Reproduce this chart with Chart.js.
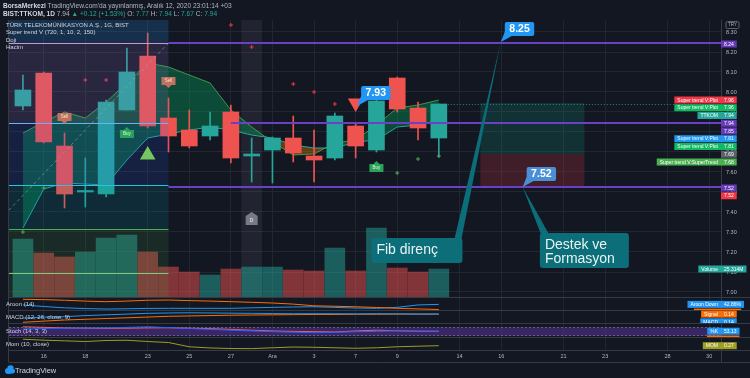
<!DOCTYPE html>
<html>
<head>
<meta charset="utf-8">
<title>TTKOM</title>
<script src="https://cdn.jsdelivr.net/npm/chart.js@4.4.1/dist/chart.umd.min.js"></script>
<style>
  html, body { margin: 0; padding: 0; background: #131722; }
  #wrap { position: relative; width: 750px; height: 378px; overflow: hidden; font-family: "Liberation Sans", Arial, sans-serif; }
  #c { position: absolute; left: 0; top: 0; }
  .t { position: absolute; white-space: nowrap; color: #d1d4dc; font-size: 6px; line-height: 7px; }
  .h { font-size: 6.6px; line-height: 8px; color: #b2b5be; }
  .h b { color: #d1d4dc; }
  .g { color: #26a69a; }
</style>
</head>
<body>
<div id="wrap">
  <canvas id="c" width="750" height="378"></canvas>
  <div class="t h" style="left:3px;top:2px"><b>BorsaMerkezi</b> TradingView.com'da yayınlanmış, Aralık 12, 2020 23:01:14 +03</div>
  <div class="t h" style="left:3px;top:10px"><b>BIST:TTKOM, 1D</b> 7.94 <span class="g">▲</span> <span class="g">+0.12 (+1.53%)</span> O: <span class="g">7.77</span> H: <span class="g">7.94</span> L: <span class="g">7.67</span> C: <span class="g">7.94</span></div>
  <div class="t" style="left:6px;top:21.5px">TÜRK TELEKOMÜNİKASYON A.Ş., 1G, BIST</div>
  <div class="t" style="left:6px;top:29px">Super trend V (720, 1, 10, 2, 150)</div>
  <div class="t" style="left:6px;top:36.5px">Doji</div>
  <div class="t" style="left:6px;top:43.5px">Hacim</div>
  <div class="t" style="left:6px;top:300.5px">Aroon (14)</div>
  <div class="t" style="left:6px;top:314px">MACD (12, 26, close, 9)</div>
  <div class="t" style="left:6px;top:327.5px">Stoch (14, 3, 3)</div>
  <div class="t" style="left:6px;top:341px">Mom (10, close)</div>
  <div class="t" style="left:15px;top:366px;font-size:7.5px;line-height:9px">TradingView</div>
</div>
<script>
// trading days on the x axis (index = position)
var dayLabels = ['13', '16', '17', '18', '19', '20', '23', '24', '25', '26', '27', '30', 'Ara', '2', '3', '4', '7', '8', '9', '10', '11',
    '14', '15', '16', '17', '18', '21', '22', '23', '24', '25', '28', '29', '30'];
var tickIdx = [1, 3, 6, 8, 10, 12, 14, 16, 18, 21, 23, 26, 28, 31, 33];
var priceTicks = [7.0, 7.1, 7.2, 7.3, 7.4, 7.5, 7.6, 7.7, 7.8, 7.9, 8.0, 8.1, 8.2, 8.3];

// daily candles 13 Kas - 11 Ara
var openP  = [7.93, 8.095, 7.73, 7.50, 7.49, 7.91, 8.18, 7.87, 7.81, 7.78, 7.90, 7.68, 7.71, 7.77, 7.68, 7.67, 7.83, 7.71, 8.07, 7.92, 7.77];
var highP  = [8.085, 8.10, 7.795, 7.67, 7.96, 8.22, 8.295, 7.97, 7.91, 7.90, 7.935, 7.77, 7.775, 7.88, 7.81, 7.895, 7.845, 7.96, 8.075, 7.95, 7.94];
var lowP   = [7.91, 7.745, 7.42, 7.425, 7.475, 7.91, 7.82, 7.70, 7.72, 7.76, 7.645, 7.55, 7.545, 7.65, 7.55, 7.66, 7.67, 7.70, 7.90, 7.76, 7.675];
var closeP = [8.01, 7.75, 7.49, 7.505, 7.95, 8.10, 7.83, 7.78, 7.73, 7.83, 7.67, 7.69, 7.77, 7.695, 7.66, 7.88, 7.73, 7.955, 7.915, 7.82, 7.94];
var volM   = [52.4, 39.8, 36.2, 40.7, 53.3, 56.0, 40.7, 27.1, 22.6, 19.9, 25.3, 27.1, 27.1, 24.4, 23.5, 44.3, 23.5, 62.4, 26.2, 22.6, 25.314];

// super trend band
var stA = [7.795, 7.85, 7.90, 7.87, 7.95, 8.045, 8.145, 8.125, 8.085, 8.045, 7.91, 7.825, 7.75, 7.685, 7.69, 7.745, 7.76, 7.835, 7.92, 7.935, 7.96];
var stB = [7.32, 7.515, 7.545, 7.54, 7.535, 7.66, 7.77, 7.79, 7.81, 7.825, 7.81, 7.785, 7.77, 7.735, 7.72, 7.72, 7.75, 7.76, 7.825, 7.835, 7.86];

// signals
var sellIdx = [2, 7];
var sellVal = [7.84, 8.02];
var buyIdx = [5, 17];
var buyVal = [7.825, 7.655];
var upArrowIdx = [6];
var upArrowVal = [7.685];
var downArrowIdx = [16];
var downArrowVal = [7.945];
var redDotIdx = [3, 4, 10, 11, 13, 14, 15];
var redDotVal = [8.06, 8.06, 8.335, 8.225, 8.04, 8.00, 7.94];
var greenDotIdx = [0, 1, 18, 19, 20];
var greenDotVal = [7.30, 7.52, 7.595, 7.665, 7.68];
var dojiIdx = [11];
var dojiVal = [7.3675];
var highlightIdx = 11;

// indicators
var aroonUp   = [85, 82, 77, 70, 65, 70, 77, 79, 74, 70, 65, 60, 54, 45, 31, 27, 23, 17, 10, 5, 0];
var aroonDown = [38, 25, 14, 8, 4, 6, 9, 10, 10, 10, 10, 14, 18, 21, 23, 18, 12, 10, 18, 38, 42.86];
var macdLine  = [0.03, 0.06, 0.07, 0.10, 0.12, 0.14, 0.16, 0.17, 0.175, 0.17, 0.165, 0.16, 0.155, 0.15, 0.15, 0.15, 0.145, 0.15, 0.145, 0.14, 0.14];
var signalLine = [-0.08, -0.05, -0.02, 0.0, 0.02, 0.04, 0.06, 0.08, 0.09, 0.10, 0.11, 0.115, 0.12, 0.125, 0.13, 0.13, 0.135, 0.135, 0.14, 0.14, 0.14];
var stochK = [68, 72, 74, 75, 76, 80, 84, 78, 72, 66, 60, 55, 50, 46, 43, 45, 50, 52, 56, 54, 53.13];
var stochD = [84, 80, 76, 74, 73, 74, 76, 77, 74, 71, 66, 60, 55, 52, 50, 48, 55, 60, 56, 53, 52];
var stochBand = [20, 80];
var momLine = [1.04, 0.93, 0.85, 0.77, 0.89, 0.92, 0.77, 0.65, 0.14, 0.0, -0.07, -0.08, 0.02, 0.11, 0.08, 0.02, -0.04, 0.02, 0.14, 0.21, 0.27];

// drawings
var fibEnd = 7;
var fibLevels = [8.245, 7.845, 7.535, 7.315, 7.095];
var fibTrend = [[-0.67, 7.41], [7, 8.245]];
var levelVals = [8.245, 7.845, 7.525];
var levelFrom = [7, 10, 7];
var posFrom = 22, posTo = 27;
var posTarget = 7.945, posEntry = 7.69, posStop = 7.525;
var priceCallIdx = [22.98, 24.03, 16.07];
var priceCallVal = [8.25, 7.525, 7.93];
var priceCallText = ['8.25', '7.52', '7.93'];
var noteText = [['Fib direnç'], ['Destek ve', 'Formasyon']];
var noteBoxIdx = [16.76, 24.86];
var noteBoxVal = [7.27, 7.295];

// right axis labels
var tagNames  = ['', 'Super trend V:Plot', 'Super trend V:Plot', 'TTKOM', '', '', 'Super trend V:Plot', 'Super trend V:Plot', '', 'Super trend V:SuperTrend', '', ''];
var tagValues = [8.24, 7.96, 7.96, 7.94, 7.94, 7.85, 7.81, 7.81, 7.69, 7.68, 7.52, 7.52];
var paneTagNames = ['Volume', 'Aroon Down', 'Aroon Up', 'Signal', 'MACD', '%K', '%D', 'MOM'];
var paneTagValues = [25.314, 42.86, 0, 0.14, 0.14, 53.13, 52.0, 0.27];
var paneTagTexts = ['25.314M', '42.86%', '0.00%', '0.14', '0.14', '53.13', '52.00', '0.27'];
var paneTagAxis = ['yv', 'yAroon', 'yAroon', 'yMacd', 'yMacd', 'yStoch', 'yStoch', 'yMom'];

var UP = '#26a69a', DOWN = '#ef5350';
var tagColors = ['#673ab7', '#f23645', '#0fba63', '#26a69a', '#673ab7', '#673ab7', '#2196f3', '#0fba63', '#5d606b', '#4caf50', '#673ab7', '#f23645'];
var paneTagColors = ['#26a69a', '#2196f3', '#ff6d00', '#ff6d00', '#2196f3', '#2196f3', '#ff6d00', '#9e9d24'];
var fibLineColors = ['#ce93d8', '#64b5f6', '#26c6da', '#4caf50', '#81c784'];
var fibBandColors = ['rgba(33,150,243,0.2)', 'rgba(149,117,205,0.17)', 'rgba(41,98,255,0.14)', 'rgba(0,151,167,0.16)', 'rgba(76,175,80,0.13)', 'rgba(76,175,80,0.13)'];
var FONT = '"Liberation Sans", Arial, sans-serif';

function pts(arr) {
    return arr.map(function (v, i) { return { x: i, y: v }; });
}
function pairPts(idx, vals) {
    return idx.map(function (v, i) { return { x: v, y: vals[i] }; });
}
var candleColors = openP.map(function (o, i) { return closeP[i] >= o ? UP : DOWN; });
var volColors = openP.map(function (o, i) { return closeP[i] >= o ? 'rgba(38,166,154,0.5)' : 'rgba(239,83,80,0.5)'; });

function drawTagBox(ctx, area, name, text, y, color) {
    ctx.font = '5px ' + FONT;
    ctx.textBaseline = 'middle';
    var vw = ctx.measureText(text).width + 6;
    ctx.fillStyle = color;
    ctx.fillRect(area.right, y - 3.5, vw, 7);
    if (name) {
        var nw = ctx.measureText(name).width + 6;
        ctx.fillRect(area.right - nw, y - 3.5, nw, 7);
        ctx.fillStyle = '#ffffff';
        ctx.textAlign = 'left';
        ctx.fillText(name, area.right - nw + 3, y + 0.3);
    }
    ctx.fillStyle = '#ffffff';
    ctx.textAlign = 'left';
    ctx.fillText(text, area.right + 3, y + 0.3);
}

function drawTagGroup(chart, names, values, texts, colors, axes) {
    var ctx = chart.ctx, area = chart.chartArea, last = {};
    for (var i = 0; i < names.length; i++) {
        var id = axes[i];
        var sc = chart.scales[id];
        var clipSc = chart.scales[id === 'yv' ? 'y' : id];
        var y = sc.getPixelForValue(values[i]);
        if (last[id] !== undefined && y < last[id] + 7.75) y = last[id] + 7.75;
        last[id] = y;
        ctx.save();
        ctx.beginPath();
        ctx.rect(0, clipSc.top, chart.width, clipSc.bottom - clipSc.top);
        ctx.clip();
        drawTagBox(ctx, area, names[i], texts[i], y, colors[i]);
        ctx.restore();
    }
}

var tvPlugin = {
    id: 'tv',
    beforeDatasetsDraw: function (chart) {
        var ctx = chart.ctx, xs = chart.scales.x, ys = chart.scales.y, ss = chart.scales.yStoch, a = chart.chartArea;
        // highlighted day
        var h0 = xs.getPixelForValue(highlightIdx - 0.5), h1 = xs.getPixelForValue(highlightIdx + 0.5);
        ctx.fillStyle = 'rgba(120,123,134,0.14)';
        ctx.fillRect(h0, ys.top, h1 - h0, ys.bottom - ys.top);
        // stochastic band
        var b0 = ss.getPixelForValue(stochBand[1]), b1 = ss.getPixelForValue(stochBand[0]);
        ctx.fillStyle = 'rgba(103,58,183,0.45)';
        ctx.fillRect(a.left, b0, a.right - a.left, b1 - b0);
        ctx.strokeStyle = 'rgba(120,123,134,0.7)';
        ctx.lineWidth = 1;
        ctx.setLineDash([2, 2]);
        ctx.beginPath();
        ctx.moveTo(a.left, Math.round(b0) + 0.5); ctx.lineTo(a.right, Math.round(b0) + 0.5);
        ctx.moveTo(a.left, Math.round(b1) - 0.5); ctx.lineTo(a.right, Math.round(b1) - 0.5);
        ctx.stroke();
        ctx.setLineDash([]);
    },
    afterDatasetsDraw: function (chart) {
        var ctx = chart.ctx, xs = chart.scales.x, ys = chart.scales.y, a = chart.chartArea;
        ctx.save();
        ctx.beginPath();
        ctx.rect(a.left, ys.top, a.right - a.left, ys.bottom - ys.top);
        ctx.clip();
        // fib retracement
        var fx1 = xs.getPixelForValue(fibEnd);
        var edges = [ys.max].concat(fibLevels).concat([ys.min]);
        for (var i = 0; i < edges.length - 1; i++) {
            var t = ys.getPixelForValue(edges[i]), b = ys.getPixelForValue(edges[i + 1]);
            ctx.fillStyle = fibBandColors[i];
            ctx.fillRect(a.left, t, fx1 - a.left, b - t);
        }
        ctx.lineWidth = 1;
        for (i = 0; i < fibLevels.length; i++) {
            var fy = Math.round(ys.getPixelForValue(fibLevels[i])) + 0.5;
            ctx.strokeStyle = fibLineColors[i];
            ctx.beginPath(); ctx.moveTo(a.left, fy); ctx.lineTo(fx1, fy); ctx.stroke();
        }
        ctx.strokeStyle = 'rgba(160,163,172,0.6)';
        ctx.setLineDash([3, 3]);
        ctx.beginPath();
        ctx.moveTo(xs.getPixelForValue(fibTrend[0][0]), ys.getPixelForValue(fibTrend[0][1]));
        ctx.lineTo(xs.getPixelForValue(fibTrend[1][0]), ys.getPixelForValue(fibTrend[1][1]));
        ctx.stroke();
        ctx.setLineDash([]);
        // long position
        var p0 = xs.getPixelForValue(posFrom), p1 = xs.getPixelForValue(posTo);
        var yT = ys.getPixelForValue(posTarget), yE = ys.getPixelForValue(posEntry), yS = ys.getPixelForValue(posStop);
        ctx.fillStyle = 'rgba(8,153,129,0.2)';
        ctx.fillRect(p0, yT, p1 - p0, yE - yT);
        ctx.fillStyle = 'rgba(242,54,69,0.2)';
        ctx.fillRect(p0, yE, p1 - p0, yS - yE);
        // horizontal levels
        ctx.strokeStyle = '#6a40c4';
        ctx.lineWidth = 2;
        for (i = 0; i < levelVals.length; i++) {
            var ly = Math.round(ys.getPixelForValue(levelVals[i]));
            ctx.beginPath(); ctx.moveTo(xs.getPixelForValue(levelFrom[i]), ly); ctx.lineTo(a.right, ly); ctx.stroke();
        }
        // last price line
        ctx.strokeStyle = 'rgba(38,166,154,0.8)';
        ctx.lineWidth = 1;
        ctx.setLineDash([1, 2]);
        var cy = Math.round(ys.getPixelForValue(closeP[closeP.length - 1])) + 0.5;
        ctx.beginPath(); ctx.moveTo(xs.getPixelForValue(closeP.length - 1), cy); ctx.lineTo(a.right, cy); ctx.stroke();
        ctx.setLineDash([]);
        // buy / sell tags
        ctx.font = '4.5px ' + FONT;
        ctx.textAlign = 'center';
        ctx.textBaseline = 'middle';
        for (i = 0; i < sellIdx.length; i++) {
            var sx = xs.getPixelForValue(sellIdx[i]), sy = ys.getPixelForValue(sellVal[i]);
            ctx.fillStyle = '#c0725c';
            ctx.beginPath(); ctx.moveTo(sx, sy); ctx.lineTo(sx - 3, sy - 3); ctx.lineTo(sx + 3, sy - 3); ctx.fill();
            ctx.fillRect(sx - 7, sy - 11, 14, 8);
            ctx.fillStyle = '#f3e0da';
            ctx.fillText('Sell', sx, sy - 6.8);
        }
        for (i = 0; i < buyIdx.length; i++) {
            var bx = xs.getPixelForValue(buyIdx[i]), by = ys.getPixelForValue(buyVal[i]);
            ctx.fillStyle = '#2aa35a';
            ctx.beginPath(); ctx.moveTo(bx, by); ctx.lineTo(bx - 3, by + 3); ctx.lineTo(bx + 3, by + 3); ctx.fill();
            ctx.fillRect(bx - 7, by + 3, 14, 8);
            ctx.fillStyle = '#dff3e6';
            ctx.fillText('Buy', bx, by + 7.2);
        }
        // doji marker
        for (i = 0; i < dojiIdx.length; i++) {
            var dx = xs.getPixelForValue(dojiIdx[i]), dy = ys.getPixelForValue(dojiVal[i]);
            ctx.fillStyle = '#787b86';
            ctx.beginPath();
            ctx.moveTo(dx, dy - 6.5); ctx.lineTo(dx + 6, dy - 2.5); ctx.lineTo(dx + 6, dy + 6.5);
            ctx.lineTo(dx - 6, dy + 6.5); ctx.lineTo(dx - 6, dy - 2.5); ctx.closePath(); ctx.fill();
            ctx.fillStyle = '#d1d4dc';
            ctx.font = 'bold 5px ' + FONT;
            ctx.fillText('D', dx, dy + 2);
        }
        ctx.restore();
    },
    afterDraw: function (chart) {
        var ctx = chart.ctx, xs = chart.scales.x, ys = chart.scales.y, a = chart.chartArea, i;
        // frame and pane separators
        ctx.strokeStyle = '#363a45';
        ctx.lineWidth = 1;
        ctx.beginPath();
        ['yAroon', 'yMacd', 'yStoch', 'yMom'].forEach(function (id) {
            var sy = Math.round(chart.scales[id].top) + 0.5;
            ctx.moveTo(a.left, sy); ctx.lineTo(chart.width, sy);
        });
        var by = Math.round(a.bottom) + 0.5;
        ctx.moveTo(a.left, by); ctx.lineTo(chart.width, by);
        ctx.moveTo(a.left, by + 12); ctx.lineTo(chart.width, by + 12);
        ctx.moveTo(Math.round(a.right) + 0.5, a.top); ctx.lineTo(Math.round(a.right) + 0.5, by + 12);
        ctx.moveTo(a.left - 0.5, a.top); ctx.lineTo(a.left - 0.5, by + 12);
        ctx.stroke();

        // price callouts
        ctx.textBaseline = 'middle';
        for (i = 0; i < priceCallIdx.length; i++) {
            var ax = xs.getPixelForValue(priceCallIdx[i]), ay = ys.getPixelForValue(priceCallVal[i]);
            ctx.font = 'bold 10.5px ' + FONT;
            var w = ctx.measureText(priceCallText[i]).width + 9;
            var bx = ax + 4, bt = ay - 20;
            ctx.fillStyle = i === 1 ? '#4a8fd6' : '#2196f3';
            ctx.beginPath(); ctx.moveTo(ax, ay); ctx.lineTo(bx, bt + 10); ctx.lineTo(bx + 7, bt + 14); ctx.fill();
            ctx.beginPath(); ctx.roundRect(bx, bt, w, 14, 2); ctx.fill();
            ctx.fillStyle = '#ffffff';
            ctx.textAlign = 'center';
            ctx.fillText(priceCallText[i], bx + w / 2, bt + 7.5);
        }
        // text notes with pointers to the callout anchors
        var noteW = [91, 89], noteH = [25, 35];
        for (i = 0; i < noteText.length; i++) {
            var nx = xs.getPixelForValue(noteBoxIdx[i]), ny = ys.getPixelForValue(noteBoxVal[i]);
            var tx = xs.getPixelForValue(priceCallIdx[i]), ty = ys.getPixelForValue(priceCallVal[i]);
            ctx.fillStyle = '#0b6e79';
            ctx.beginPath();
            ctx.moveTo(tx, ty);
            if (i === 0) { ctx.lineTo(nx + noteW[i] - 8, ny + 1); ctx.lineTo(nx + noteW[i] - 1, ny + 1); }
            else { ctx.lineTo(nx + 1, ny + 1); ctx.lineTo(nx + 9, ny + 1); }
            ctx.fill();
            ctx.beginPath(); ctx.roundRect(nx, ny, noteW[i], noteH[i], 3); ctx.fill();
            ctx.fillStyle = '#e8f4f4';
            ctx.textAlign = 'left';
            ctx.font = '14px ' + FONT;
            for (var k = 0; k < noteText[i].length; k++) {
                ctx.fillText(noteText[i][k], nx + 5, ny + 12.5 + k * 13.5);
            }
        }

        // axis labels on the right
        var axesMain = tagValues.map(function () { return 'y'; });
        var textsMain = tagValues.map(function (v) { return v.toFixed(2); });
        drawTagGroup(chart, tagNames, tagValues, textsMain, tagColors, axesMain);
        drawTagGroup(chart, paneTagNames, paneTagValues, paneTagTexts, paneTagColors, paneTagAxis);

        // currency box
        ctx.strokeStyle = '#5d606b';
        ctx.fillStyle = '#131722';
        ctx.beginPath(); ctx.roundRect(a.right + 5, a.top + 1.5, 13, 7, 1.5); ctx.fill(); ctx.stroke();
        ctx.fillStyle = '#b2b5be';
        ctx.font = '4.5px ' + FONT;
        ctx.textAlign = 'center';
        ctx.fillText('TRY', a.right + 11.5, a.top + 5.2);

        // logo cloud
        ctx.fillStyle = '#2196f3';
        ctx.beginPath();
        ctx.arc(8, 371, 3, Math.PI * 0.5, Math.PI * 1.5);
        ctx.arc(10.5, 368.5, 3.2, Math.PI, Math.PI * 2);
        ctx.arc(12.5, 371, 2.5, Math.PI * 1.5, Math.PI * 0.5);
        ctx.closePath();
        ctx.fill();
    }
};

var noTicks = { display: false };
function paneAxis(weight, min, max) {
    return {
        type: 'linear', position: 'right', stack: 'panes', stackWeight: weight, min: min, max: max,
        ticks: noTicks, grid: { display: false }, border: { display: false },
        afterFit: function (s) { s.width = 29; }
    };
}

var scales = {
    x: {
        type: 'linear', min: -0.67, max: 33.57, offset: false,
        afterBuildTicks: function (s) { s.ticks = tickIdx.map(function (v) { return { value: v }; }); },
        ticks: {
            autoSkip: false, maxRotation: 0, padding: 3, color: '#b2b5be', font: { size: 5.5, family: FONT },
            callback: function (v) { return dayLabels[v]; }
        },
        grid: { color: '#22262f', drawTicks: false, offset: false }, border: { display: false },
        afterFit: function (s) { s.height = 12; }
    },
    y: {
        type: 'linear', position: 'right', stack: 'panes', stackWeight: 277, min: 6.975, max: 8.36,
        afterBuildTicks: function (s) { s.ticks = priceTicks.map(function (v) { return { value: v }; }); },
        ticks: {
            padding: 5, color: '#b2b5be', font: { size: 5.5, family: FONT },
            callback: function (v) { return v.toFixed(2); }
        },
        grid: { color: '#22262f', drawTicks: false }, border: { display: false },
        afterFit: function (s) { s.width = 29; }
    },
    yAroon: paneAxis(13, -4, 104),
    yMacd: paneAxis(13, -0.10, 0.25),
    yStoch: paneAxis(14, 13, 110),
    yMom: paneAxis(13, -0.246, 1.31),
    yv: {
        type: 'linear', position: 'left', display: false, min: -47.9, max: 250.4,
        ticks: noTicks, grid: { display: false },
        afterFit: function (s) { s.width = 0; }
    }
};

function lineSet(label, data, axis, color) {
    return {
        type: 'line', label: label, data: pts(data), yAxisID: axis, borderColor: color,
        borderWidth: 1, pointRadius: 0, fill: false, tension: 0, order: 5
    };
}
function dotSet(label, idx, vals, style, radius, color, rot) {
    return {
        type: 'line', label: label, data: pairPts(idx, vals), yAxisID: 'y', showLine: false,
        pointStyle: style, pointRadius: radius, rotation: rot || 0, pointBackgroundColor: color,
        pointBorderColor: color, pointBorderWidth: style === 'cross' ? 1 : 0, order: 1
    };
}

var datasets = [
    {
        type: 'bar', label: 'Hacim', data: pts(volM), yAxisID: 'yv', backgroundColor: volColors,
        barThickness: 20, grouped: false, order: 20
    },
    {
        type: 'line', label: 'Super trend A', data: pts(stA), yAxisID: 'y', borderColor: 'rgba(76,175,80,0.8)',
        borderWidth: 1, pointRadius: 0, tension: 0, order: 10,
        fill: { target: '+1', above: 'rgba(0,160,90,0.38)', below: 'rgba(255,152,0,0.32)' }
    },
    {
        type: 'line', label: 'Super trend B', data: pts(stB), yAxisID: 'y', borderColor: 'rgba(38,198,218,0.8)',
        borderWidth: 1, pointRadius: 0, tension: 0, fill: false, order: 10
    },
    {
        type: 'bar', label: 'wick', yAxisID: 'y', grouped: false, barThickness: 1, order: 3,
        data: lowP.map(function (l, i) { return { x: i, y: [l, highP[i]] }; }), backgroundColor: candleColors
    },
    {
        type: 'bar', label: 'TTKOM', yAxisID: 'y', grouped: false, barThickness: 16, minBarLength: 1.5, order: 2,
        data: openP.map(function (o, i) { return { x: i, y: [o, closeP[i]] }; }), backgroundColor: candleColors
    },
    dotSet('up', upArrowIdx, upArrowVal, 'triangle', 9, '#80d848'),
    dotSet('down', downArrowIdx, downArrowVal, 'triangle', 9, '#f05350', 180),
    dotSet('redDots', redDotIdx, redDotVal, 'cross', 2, '#f23645'),
    dotSet('greenDots', greenDotIdx, greenDotVal, 'cross', 2, '#4caf50'),
    lineSet('Aroon Up', aroonUp, 'yAroon', '#ff6d00'),
    lineSet('Aroon Down', aroonDown, 'yAroon', '#2196f3'),
    lineSet('MACD', macdLine, 'yMacd', '#2196f3'),
    lineSet('Signal', signalLine, 'yMacd', '#ff6d00'),
    lineSet('%K', stochK, 'yStoch', '#2962ff'),
    lineSet('%D', stochD, 'yStoch', '#ef5e68'),
    lineSet('Mom', momLine, 'yMom', '#9e9d24')
];

var chart = new Chart(document.getElementById('c'), {
    type: 'bar',
    data: { datasets: datasets },
    options: {
        responsive: false,
        animation: false,
        devicePixelRatio: 1,
        layout: { padding: { left: 3, top: 20, right: 0, bottom: 16 } },
        plugins: { legend: { display: false }, tooltip: { enabled: false } },
        scales: scales
    },
    plugins: [tvPlugin]
});
</script>
</body>
</html>
